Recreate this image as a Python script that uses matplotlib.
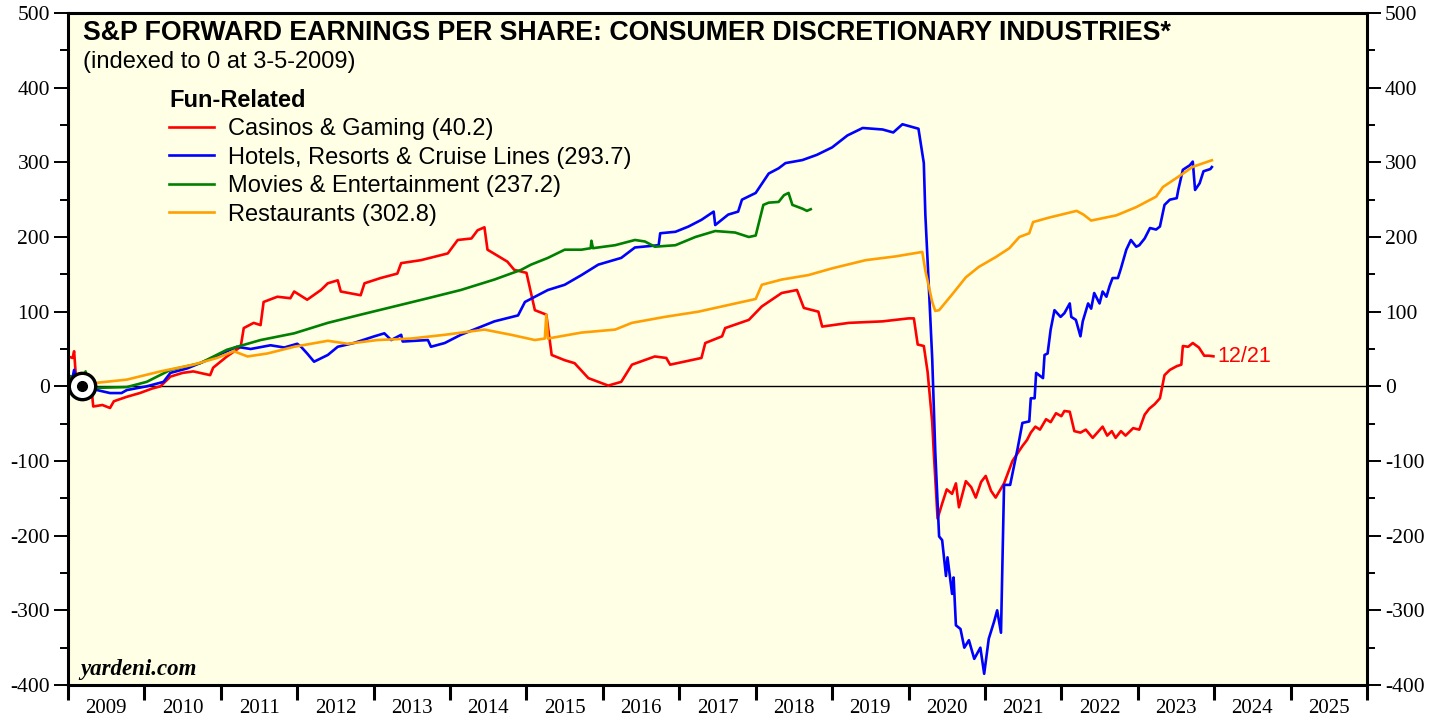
import matplotlib
matplotlib.use("Agg")
import matplotlib.pyplot as plt
from matplotlib.ticker import MultipleLocator, FixedLocator, NullFormatter

plt.rcParams["axes.unicode_minus"] = False

# dates are decimal years; index date = 3-5-2009
base_date = 2009.18

casinos_t = [2009.00, 2009.06, 2009.08, 2009.10, 2009.18, 2009.31, 2009.33, 2009.45, 2009.55,
             2009.60, 2009.77, 2009.94, 2010.10, 2010.21, 2010.34, 2010.50, 2010.64, 2010.86,
             2010.90, 2011.08, 2011.26, 2011.30, 2011.43, 2011.52, 2011.56, 2011.74, 2011.91,
             2011.96, 2012.13, 2012.31, 2012.40, 2012.53, 2012.57, 2012.83, 2012.88, 2013.09,
             2013.31, 2013.36, 2013.62, 2013.97, 2014.10, 2014.28, 2014.36, 2014.45, 2014.49,
             2014.75, 2014.84, 2015.00, 2015.06, 2015.11, 2015.26, 2015.33, 2015.50, 2015.63,
             2015.81, 2016.07, 2016.24, 2016.38, 2016.68, 2016.83, 2016.88, 2017.29, 2017.34,
             2017.56, 2017.60, 2017.91, 2018.08, 2018.34, 2018.54, 2018.63, 2018.82, 2018.87,
             2019.22, 2019.66, 2020.00, 2020.07, 2020.12, 2020.20, 2020.25, 2020.31, 2020.33,
             2020.38, 2020.44, 2020.50, 2020.57, 2020.62, 2020.66, 2020.75, 2020.82, 2020.88,
             2020.95, 2021.01, 2021.08, 2021.14, 2021.25, 2021.36, 2021.49, 2021.55, 2021.60,
             2021.66, 2021.72, 2021.80, 2021.86, 2021.93, 2022.00, 2022.04, 2022.11, 2022.17,
             2022.25, 2022.32, 2022.41, 2022.47, 2022.54, 2022.60, 2022.66, 2022.71, 2022.78,
             2022.84, 2022.94, 2023.02, 2023.09, 2023.15, 2023.22, 2023.29, 2023.35, 2023.42,
             2023.51, 2023.57, 2023.59, 2023.66, 2023.72, 2023.80, 2023.87, 2023.93, 2023.99]
casinos_v = [40, 38, 47, 18, 0, -5, -27, -25, -29,
             -20, -14, -9, -3, 0, 13, 18, 20, 15,
             25, 40, 53, 78, 85, 82, 113, 120, 118,
             127, 116, 129, 138, 142, 127, 122, 138, 145,
             151, 165, 169, 178, 196, 198, 209, 213, 183,
             167, 156, 152, 125, 102, 96, 42, 35, 31,
             11, 1, 6, 29, 40, 38, 29, 38, 58,
             67, 78, 89, 107, 125, 129, 105, 100, 80,
             85, 87, 91, 91, 56, 54, 19, -48, -88,
             -177, -157, -138, -144, -130, -162, -127, -135, -149,
             -128, -120, -140, -149, -130, -100, -80, -72, -62,
             -54, -58, -44, -48, -36, -40, -33, -34, -60,
             -62, -58, -69, -62, -54, -66, -60, -69, -60,
             -66, -56, -58, -38, -30, -24, -16, 15, 22,
             27, 29, 54, 53, 58, 52, 41, 41, 40.2]

hotels_t = [2009.00, 2009.06, 2009.08, 2009.10, 2009.18, 2009.38, 2009.55, 2009.70, 2009.77,
            2010.03, 2010.25, 2010.34, 2010.56, 2010.82, 2011.08, 2011.21, 2011.39, 2011.65,
            2011.83, 2012.00, 2012.05, 2012.13, 2012.22, 2012.40, 2012.53, 2012.74, 2013.01,
            2013.14, 2013.23, 2013.36, 2013.38, 2013.71, 2013.75, 2013.93, 2014.14, 2014.36,
            2014.58, 2014.89, 2014.98, 2015.11, 2015.28, 2015.50, 2015.72, 2015.94, 2016.24,
            2016.42, 2016.73, 2016.75, 2016.95, 2017.12, 2017.29, 2017.45, 2017.47, 2017.64,
            2017.77, 2017.82, 2018.00, 2018.17, 2018.30, 2018.39, 2018.61, 2018.80, 2019.00,
            2019.20, 2019.40, 2019.66, 2019.80, 2019.92, 2020.13, 2020.20, 2020.22, 2020.26,
            2020.31, 2020.35, 2020.40, 2020.44, 2020.49, 2020.51, 2020.57, 2020.59, 2020.62,
            2020.68, 2020.73, 2020.79, 2020.86, 2020.94, 2020.99, 2021.05, 2021.12, 2021.16,
            2021.21, 2021.25, 2021.33, 2021.38, 2021.43, 2021.49, 2021.58, 2021.60, 2021.65,
            2021.67, 2021.76, 2021.78, 2021.82, 2021.86, 2021.91, 2021.99, 2022.04, 2022.11,
            2022.13, 2022.19, 2022.25, 2022.28, 2022.35, 2022.39, 2022.43, 2022.50, 2022.54,
            2022.59, 2022.63, 2022.67, 2022.74, 2022.78, 2022.85, 2022.91, 2022.98, 2023.02,
            2023.09, 2023.16, 2023.24, 2023.29, 2023.35, 2023.42, 2023.51, 2023.53, 2023.57,
            2023.59, 2023.68, 2023.72, 2023.75, 2023.81, 2023.86, 2023.95, 2023.97]
hotels_v = [15, 12, 22, 10, 0, -5, -9, -9, -5,
            0, 6, 18, 24, 35, 47, 53, 50, 55,
            52, 57, 53, 44, 33, 42, 53, 58, 67,
            71, 62, 69, 60, 62, 53, 58, 69, 78,
            87, 95, 113, 120, 129, 136, 149, 163, 172,
            186, 189, 205, 207, 214, 223, 234, 216, 230,
            234, 250, 259, 285, 292, 299, 303, 310, 320,
            336, 346, 344, 340, 351, 345, 299, 230, 146,
            37, -88, -201, -206, -254, -229, -278, -256, -320,
            -325, -350, -340, -365, -350, -385, -338, -315, -300,
            -330, -132, -132, -107, -82, -49, -47, -16, -16,
            18, 11, 42, 44, 76, 102, 93, 98, 111,
            93, 89, 67, 87, 111, 104, 125, 111, 127,
            120, 134, 145, 145, 158, 183, 196, 187, 189,
            198, 212, 210, 214, 243, 250, 252, 263, 281,
            290, 296, 301, 263, 272, 288, 291, 293.7]

movies_t = [2009.00, 2009.10, 2009.18, 2009.23, 2009.26, 2009.38, 2009.77, 2010.03, 2010.34,
            2010.73, 2011.08, 2011.52, 2011.96, 2012.40, 2012.83, 2013.27, 2013.71, 2014.14,
            2014.58, 2014.93, 2015.06, 2015.28, 2015.50, 2015.72, 2015.84, 2015.85, 2015.87,
            2015.94, 2016.16, 2016.42, 2016.55, 2016.68, 2016.95, 2017.21, 2017.47, 2017.73,
            2017.91, 2018.00, 2018.10, 2018.17, 2018.30, 2018.37, 2018.43, 2018.48, 2018.61,
            2018.67, 2018.72]
movies_v = [15, 8, 0, 20, 0, -2, -1, 6, 22,
            31, 49, 62, 71, 85, 96, 107, 118, 129,
            143, 156, 163, 172, 183, 183, 185, 195, 185,
            186, 189, 196, 194, 187, 189, 200, 208, 206,
            200, 202, 243, 246, 247, 256, 259, 243, 238,
            235, 237.2]

restaurants_t = [2009.18, 2009.40, 2009.77, 2010.21, 2010.64, 2010.95, 2011.17, 2011.35, 2011.61,
                 2011.96, 2012.40, 2012.66, 2013.05, 2013.49, 2013.93, 2014.45, 2014.80, 2015.11,
                 2015.24, 2015.26, 2015.28, 2015.72, 2016.16, 2016.38, 2016.81, 2017.25, 2017.69,
                 2018.00, 2018.08, 2018.34, 2018.69, 2019.00, 2019.44, 2019.83, 2020.18, 2020.22,
                 2020.31, 2020.35, 2020.40, 2020.57, 2020.75, 2020.92, 2021.14, 2021.32, 2021.45,
                 2021.58, 2021.63, 2021.84, 2022.20, 2022.29, 2022.39, 2022.72, 2022.98, 2023.24,
                 2023.33, 2023.55, 2023.72, 2023.97]
restaurants_v = [0, 5, 9, 20, 29, 38, 47, 40, 44,
                 53, 61, 57, 62, 64, 69, 76, 69, 62,
                 64, 96, 64, 72, 76, 85, 93, 100, 110,
                 117, 136, 143, 149, 158, 169, 174, 180, 155,
                 113, 101, 102, 123, 146, 160, 173, 185, 200,
                 205, 220, 226, 235, 230, 222, 229, 240, 254,
                 267, 282, 294, 302.8]

labels = ["Casinos & Gaming (40.2)", "Hotels, Resorts & Cruise Lines (293.7)",
          "Movies & Entertainment (237.2)", "Restaurants (302.8)"]
colors = ["#ff0000", "#0000ff", "#008000", "#ff9f00"]
years = list(range(2009, 2026))

sans = "Liberation Sans"
serif = "Liberation Serif"

fig = plt.figure(figsize=(14.39, 7.17), dpi=100)
ax = fig.add_axes([68 / 1439, 1 - 685 / 717, 1299 / 1439, 672 / 717])
ax.set_facecolor("#ffffe6")

series = [(casinos_t, casinos_v), (hotels_t, hotels_v), (movies_t, movies_v),
          (restaurants_t, restaurants_v)]
for (t, v), lab, c in zip(series, labels, colors):
    ax.plot(t, v, color=c, lw=1.9, label=lab)

ax.axhline(0, color="black", lw=1.0, zorder=1)

# index-date marker
ax.plot(base_date, 0, "o", ms=19, mfc="white", mec="black", mew=2.4, zorder=5)
ax.plot(base_date, 0, "o", ms=7, color="black", zorder=6)

ax.annotate("12/21", (casinos_t[-1], casinos_v[-1]), xytext=(3, 0),
            textcoords="offset points", color="#ff0000", fontsize=15.5,
            family=sans, va="center")

ax.set_xlim(2009, 2026)
ax.set_ylim(-400, 500)

for s in ax.spines.values():
    s.set_linewidth(2.2)

ax.yaxis.set_major_locator(MultipleLocator(100))
ax.yaxis.set_minor_locator(MultipleLocator(50))
ax.tick_params(axis="y", which="major", direction="out", length=10, width=1.4,
               left=True, right=True, labelleft=True, labelright=True,
               labelsize=15.5, pad=3)
ax.tick_params(axis="y", which="minor", direction="out", length=6, width=1.4,
               left=True, right=True)
ax.xaxis.set_major_locator(FixedLocator(list(range(2009, 2027))))
ax.xaxis.set_major_formatter(NullFormatter())
ax.xaxis.set_minor_locator(FixedLocator([y + 0.5 for y in years]))
ax.set_xticklabels([str(y) for y in years], minor=True)
ax.tick_params(axis="x", which="major", direction="out", length=11, width=2.2)
ax.tick_params(axis="x", which="minor", length=0, labelsize=15, pad=10)
for lbl in ax.get_xticklabels(minor=True) + ax.get_yticklabels():
    lbl.set_family(serif)

ax.text(15 / 1299, 1 - 20 / 672, "S&P FORWARD EARNINGS PER SHARE: CONSUMER DISCRETIONARY INDUSTRIES*",
        transform=ax.transAxes, fontsize=19.3, fontweight="bold", family=sans, va="center")
ax.text(15 / 1299, 1 - 49 / 672, "(indexed to 0 at 3-5-2009)",
        transform=ax.transAxes, fontsize=17, family=sans, va="center")
ax.text(12 / 1299, 16 / 672, "yardeni.com", transform=ax.transAxes, fontsize=16.5,
        fontweight="bold", fontstyle="italic", family=serif, va="center")

leg = ax.legend(loc="upper left", bbox_to_anchor=(101 / 1299, 1 - 76 / 672), frameon=False,
                title="Fun-Related", alignment="left", handlelength=1.9, handletextpad=0.6,
                labelspacing=0.27, borderpad=0, borderaxespad=0,
                prop={"family": sans, "size": 17},
                title_fontproperties={"family": sans, "size": 17, "weight": "bold"})
for h in leg.get_lines():
    h.set_linewidth(1.9)

fig.savefig("out.png", dpi=100)
